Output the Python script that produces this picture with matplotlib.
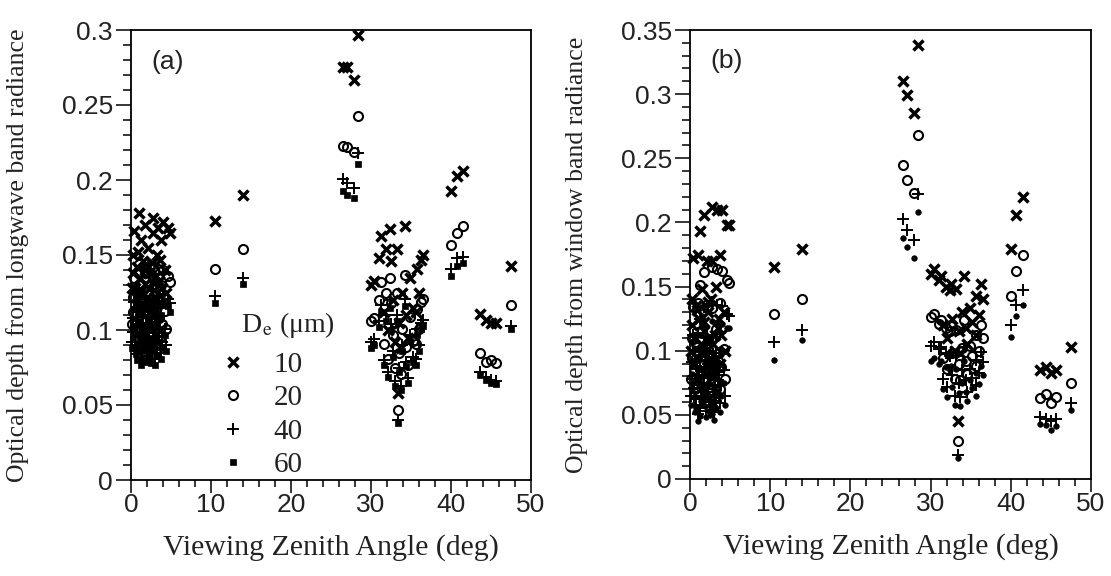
import matplotlib.pyplot as plt
from matplotlib.ticker import MultipleLocator, FuncFormatter

plt.rcParams['font.family'] = 'Liberation Sans'
plt.rcParams['mathtext.fontset'] = 'stix'

# ------------------------
# Datos
# ------------------------

# ángulo cenital de observación (deg), común a los dos paneles
angulo = [
    0.2, 0.4, 0.5, 0.7, 0.8, 1.0, 1.1, 1.2, 1.3, 1.5, 1.6, 1.7, 1.8, 2.0, 2.1, 2.2,
    2.4, 2.7, 2.6, 2.8, 2.9, 3.0, 3.2, 3.4, 3.5, 3.7, 3.8, 4.0, 4.2, 4.4, 4.6, 4.9,
    0.3, 0.6, 0.9, 1.4, 1.9, 2.3, 2.5, 3.1, 3.3, 3.6, 0.1, 1.0, 1.7, 2.2, 2.7, 3.9,
    10.5, 14.0,
    26.5, 27.0, 27.9, 28.4,
    30.0, 30.4, 31.0, 31.3, 31.6, 31.9, 32.1, 32.4, 32.5, 32.7, 33.0, 33.2, 33.4,
    33.5, 33.7, 33.9, 34.2, 34.4, 34.6, 34.9, 35.2, 35.6, 35.7, 36.0, 36.3, 36.5,
    40.0, 40.7, 41.5,
    43.6, 44.4, 45.0, 45.6,
    47.5,
]

# (a) espesor óptico desde la radiancia de onda larga, De = 10, 20, 40, 60 um
tau_lw_10 = [
    0.150, 0.166, 0.128, 0.142, 0.117, 0.178, 0.135, 0.112, 0.160, 0.146, 0.124, 0.170, 0.131, 0.115, 0.155, 0.138,
    0.120, 0.175, 0.145, 0.165, 0.127, 0.112, 0.150, 0.168, 0.133, 0.118, 0.160, 0.172, 0.140, 0.125, 0.168, 0.165,
    0.138, 0.122, 0.152, 0.118, 0.144, 0.128, 0.113, 0.136, 0.121, 0.147, 0.128, 0.125, 0.140, 0.118, 0.132, 0.128,
    0.173, 0.190,
    0.275, 0.275, 0.267, 0.297,
    0.130, 0.133, 0.148, 0.163, 0.112, 0.154, 0.100, 0.167, 0.146, 0.120, 0.092, 0.154, 0.058,
    0.105, 0.088, 0.125, 0.169, 0.110, 0.095, 0.135, 0.115, 0.112, 0.141, 0.125, 0.147, 0.150,
    0.193, 0.203, 0.206,
    0.111, 0.107, 0.105, 0.105,
    0.143,
]
tau_lw_20 = [
    0.122, 0.135, 0.104, 0.115, 0.095, 0.144, 0.110, 0.091, 0.130, 0.118, 0.100, 0.138, 0.106, 0.093, 0.126, 0.112,
    0.097, 0.142, 0.117, 0.134, 0.103, 0.091, 0.121, 0.141, 0.108, 0.096, 0.130, 0.140, 0.113, 0.101, 0.136, 0.132,
    0.112, 0.099, 0.123, 0.096, 0.117, 0.104, 0.092, 0.110, 0.098, 0.119, 0.104, 0.101, 0.113, 0.096, 0.107, 0.104,
    0.141, 0.154,
    0.223, 0.222, 0.219, 0.243,
    0.106, 0.108, 0.120, 0.132, 0.091, 0.125, 0.081, 0.135, 0.118, 0.097, 0.075, 0.125, 0.047,
    0.085, 0.071, 0.101, 0.137, 0.089, 0.077, 0.109, 0.093, 0.091, 0.114, 0.101, 0.119, 0.121,
    0.157, 0.165, 0.169,
    0.085, 0.079, 0.080, 0.078,
    0.117,
]
tau_lw_40 = [
    0.108, 0.119, 0.092, 0.102, 0.084, 0.128, 0.097, 0.081, 0.115, 0.105, 0.089, 0.122, 0.094, 0.083, 0.112, 0.099,
    0.086, 0.126, 0.104, 0.119, 0.091, 0.081, 0.108, 0.122, 0.096, 0.085, 0.115, 0.124, 0.101, 0.090, 0.121, 0.118,
    0.099, 0.088, 0.109, 0.085, 0.104, 0.092, 0.081, 0.098, 0.087, 0.106, 0.092, 0.090, 0.101, 0.085, 0.095, 0.092,
    0.123, 0.135,
    0.201, 0.198, 0.195, 0.218,
    0.092, 0.094, 0.106, 0.117, 0.080, 0.110, 0.072, 0.120, 0.104, 0.086, 0.066, 0.110, 0.040,
    0.075, 0.063, 0.090, 0.121, 0.079, 0.068, 0.097, 0.082, 0.081, 0.101, 0.090, 0.105, 0.107,
    0.141, 0.148, 0.149,
    0.072, 0.069, 0.067, 0.066,
    0.103,
]
tau_lw_60 = [
    0.103, 0.114, 0.088, 0.098, 0.080, 0.123, 0.093, 0.077, 0.110, 0.101, 0.086, 0.117, 0.090, 0.079, 0.107, 0.095,
    0.083, 0.121, 0.100, 0.114, 0.087, 0.077, 0.103, 0.116, 0.092, 0.081, 0.110, 0.118, 0.097, 0.086, 0.116, 0.112,
    0.095, 0.084, 0.105, 0.081, 0.099, 0.088, 0.078, 0.094, 0.083, 0.101, 0.088, 0.086, 0.097, 0.081, 0.091, 0.088,
    0.118, 0.131,
    0.193, 0.190, 0.188, 0.211,
    0.088, 0.090, 0.102, 0.112, 0.077, 0.106, 0.069, 0.115, 0.100, 0.082, 0.063, 0.106, 0.038,
    0.072, 0.060, 0.086, 0.116, 0.076, 0.065, 0.093, 0.079, 0.077, 0.097, 0.086, 0.101, 0.103,
    0.136, 0.143, 0.145,
    0.070, 0.067, 0.065, 0.064,
    0.101,
]

# (b) espesor óptico desde la radiancia de la banda ventana
tau_win_10 = [
    0.140, 0.172, 0.110, 0.135, 0.095, 0.175, 0.125, 0.085, 0.193, 0.148, 0.100, 0.206, 0.115, 0.082, 0.170, 0.130,
    0.092, 0.212, 0.140, 0.170, 0.105, 0.080, 0.150, 0.210, 0.118, 0.090, 0.175, 0.210, 0.130, 0.100, 0.198, 0.198,
    0.120, 0.090, 0.132, 0.105, 0.098, 0.138, 0.086, 0.112, 0.094, 0.125, 0.100, 0.078, 0.122, 0.108, 0.088, 0.112,
    0.165, 0.179,
    0.310, 0.299, 0.285, 0.338,
    0.160, 0.164, 0.155, 0.158, 0.120, 0.150, 0.110, 0.147, 0.152, 0.125, 0.100, 0.148, 0.045,
    0.115, 0.098, 0.130, 0.158, 0.118, 0.105, 0.133, 0.122, 0.143, 0.112, 0.128, 0.152, 0.140,
    0.179, 0.206, 0.220,
    0.085, 0.087, 0.083, 0.085,
    0.103,
]
tau_win_20 = [
    0.110, 0.134, 0.086, 0.105, 0.074, 0.137, 0.098, 0.066, 0.151, 0.115, 0.078, 0.161, 0.090, 0.064, 0.133, 0.101,
    0.072, 0.165, 0.109, 0.133, 0.082, 0.062, 0.117, 0.164, 0.092, 0.070, 0.137, 0.162, 0.101, 0.078, 0.155, 0.153,
    0.094, 0.070, 0.103, 0.082, 0.076, 0.108, 0.067, 0.087, 0.073, 0.098, 0.078, 0.061, 0.095, 0.084, 0.069, 0.087,
    0.129, 0.140,
    0.245, 0.233, 0.223, 0.268,
    0.126, 0.129, 0.121, 0.124, 0.094, 0.118, 0.086, 0.115, 0.119, 0.098, 0.078, 0.116, 0.030,
    0.090, 0.077, 0.102, 0.124, 0.092, 0.082, 0.104, 0.096, 0.112, 0.088, 0.100, 0.120, 0.110,
    0.143, 0.162, 0.175,
    0.063, 0.066, 0.059, 0.064,
    0.075,
]
tau_win_40 = [
    0.091, 0.112, 0.071, 0.088, 0.062, 0.114, 0.081, 0.055, 0.125, 0.096, 0.065, 0.134, 0.075, 0.053, 0.110, 0.085,
    0.060, 0.138, 0.091, 0.111, 0.068, 0.052, 0.098, 0.136, 0.077, 0.059, 0.114, 0.135, 0.085, 0.065, 0.129, 0.127,
    0.078, 0.058, 0.086, 0.068, 0.064, 0.090, 0.056, 0.073, 0.061, 0.081, 0.065, 0.051, 0.079, 0.070, 0.057, 0.073,
    0.107, 0.116,
    0.203, 0.194, 0.186, 0.222,
    0.104, 0.107, 0.101, 0.103, 0.078, 0.098, 0.072, 0.096, 0.099, 0.081, 0.065, 0.096, 0.019,
    0.075, 0.064, 0.085, 0.103, 0.077, 0.068, 0.086, 0.079, 0.093, 0.073, 0.083, 0.099, 0.091,
    0.120, 0.136, 0.147,
    0.048, 0.047, 0.045, 0.047,
    0.059,
]
tau_win_60 = [
    0.082, 0.100, 0.064, 0.078, 0.055, 0.102, 0.073, 0.049, 0.112, 0.086, 0.058, 0.120, 0.067, 0.048, 0.099, 0.075,
    0.053, 0.123, 0.081, 0.099, 0.061, 0.046, 0.087, 0.122, 0.068, 0.052, 0.101, 0.121, 0.075, 0.058, 0.118, 0.118,
    0.070, 0.052, 0.077, 0.061, 0.057, 0.080, 0.050, 0.065, 0.055, 0.073, 0.058, 0.045, 0.071, 0.063, 0.051, 0.065,
    0.093, 0.108,
    0.188, 0.181, 0.172, 0.208,
    0.092, 0.094, 0.090, 0.092, 0.070, 0.087, 0.064, 0.085, 0.088, 0.072, 0.058, 0.086, 0.016,
    0.067, 0.057, 0.075, 0.092, 0.068, 0.061, 0.077, 0.071, 0.083, 0.065, 0.074, 0.088, 0.081,
    0.111, 0.127, 0.136,
    0.043, 0.042, 0.038, 0.041,
    0.054,
]

tamanos = ['10', '20', '40', '60']


# ------------------------
# Función de gráfico
# ------------------------

def dibujar_panel(ax, t10, t20, t40, t60, ymax, etiqueta, ylabel, marca_60):
    estilo = dict(linestyle='none', color='black', clip_on=False)
    ax.plot(angulo, t10, marker='x', ms=7.5, mew=2.5, label=tamanos[0], **estilo)
    ax.plot(angulo, t20, marker='o', ms=6.5, mew=1.5, mfc='none', label=tamanos[1], **estilo)
    ax.plot(angulo, t40, marker='+', ms=8.5, mew=1.4, label=tamanos[2], **estilo)
    ax.plot(angulo, t60, marker=marca_60, ms=4.0, mew=0.5, label=tamanos[3], **estilo)

    ax.set_xlim(0, 50)
    ax.set_ylim(0, ymax)
    ax.xaxis.set_major_locator(MultipleLocator(10))
    ax.xaxis.set_minor_locator(MultipleLocator(2))
    ax.yaxis.set_major_locator(MultipleLocator(0.05))
    ax.yaxis.set_minor_locator(MultipleLocator(0.01))
    ax.yaxis.set_major_formatter(FuncFormatter(lambda v, p: f"{v:g}"))
    ax.tick_params(which='major', direction='out', length=11, width=1.1,
                   labelsize=19, pad=2, labelcolor='#222222')
    ax.tick_params(which='minor', direction='out', length=6, width=1.1)
    ax.tick_params(axis='x', which='major', length=9, pad=0.5)
    ax.tick_params(axis='x', which='minor', length=5)
    for s in ax.spines.values():
        s.set_linewidth(1.3)

    ax.set_xlabel('Viewing Zenith Angle (deg)', family='Liberation Serif',
                  fontsize=21.5, color='#222222')
    ax.xaxis.set_label_coords(0.5, -0.12)
    ax.set_ylabel(ylabel, family='Liberation Serif', fontsize=18.5, color='#222222')
    ax.yaxis.set_label_coords(-0.255, 0.5)
    ax.text(0.05, 0.93, etiqueta, transform=ax.transAxes, fontsize=19,
            va='center', ha='left', color='#222222')


fig = plt.figure(figsize=(11.11, 5.76), dpi=100)
ax_a = fig.add_axes([131 / 1111, 96 / 576, 400 / 1111, 450 / 576])
ax_b = fig.add_axes([690 / 1111, 97 / 576, 401 / 1111, 449 / 576])

dibujar_panel(ax_a, tau_lw_10, tau_lw_20, tau_lw_40, tau_lw_60, 0.3, '(a)',
              'Optical depth from longwave band radiance', 's')
dibujar_panel(ax_b, tau_win_10, tau_win_20, tau_win_40, tau_win_60, 0.35, '(b)',
              'Optical depth from window band radiance', 'o')

leg = ax_a.legend(loc='upper left', bbox_to_anchor=(0.225, 0.3767), frameon=False,
                  title=r'   D$_\mathrm{e}$ (μm)', alignment='left', fontsize=21,
                  title_fontsize=20, handlelength=0.8, handletextpad=1.0,
                  labelspacing=0.24, borderpad=0, borderaxespad=0,
                  prop={'family': 'Liberation Serif', 'size': 21})
leg.get_title().set_family('Liberation Serif')
leg._legend_box.sep = 8
for t in leg.get_texts():
    t.set_color('#222222')
leg.get_title().set_color('#222222')

fig.savefig('out.png', dpi=100)
